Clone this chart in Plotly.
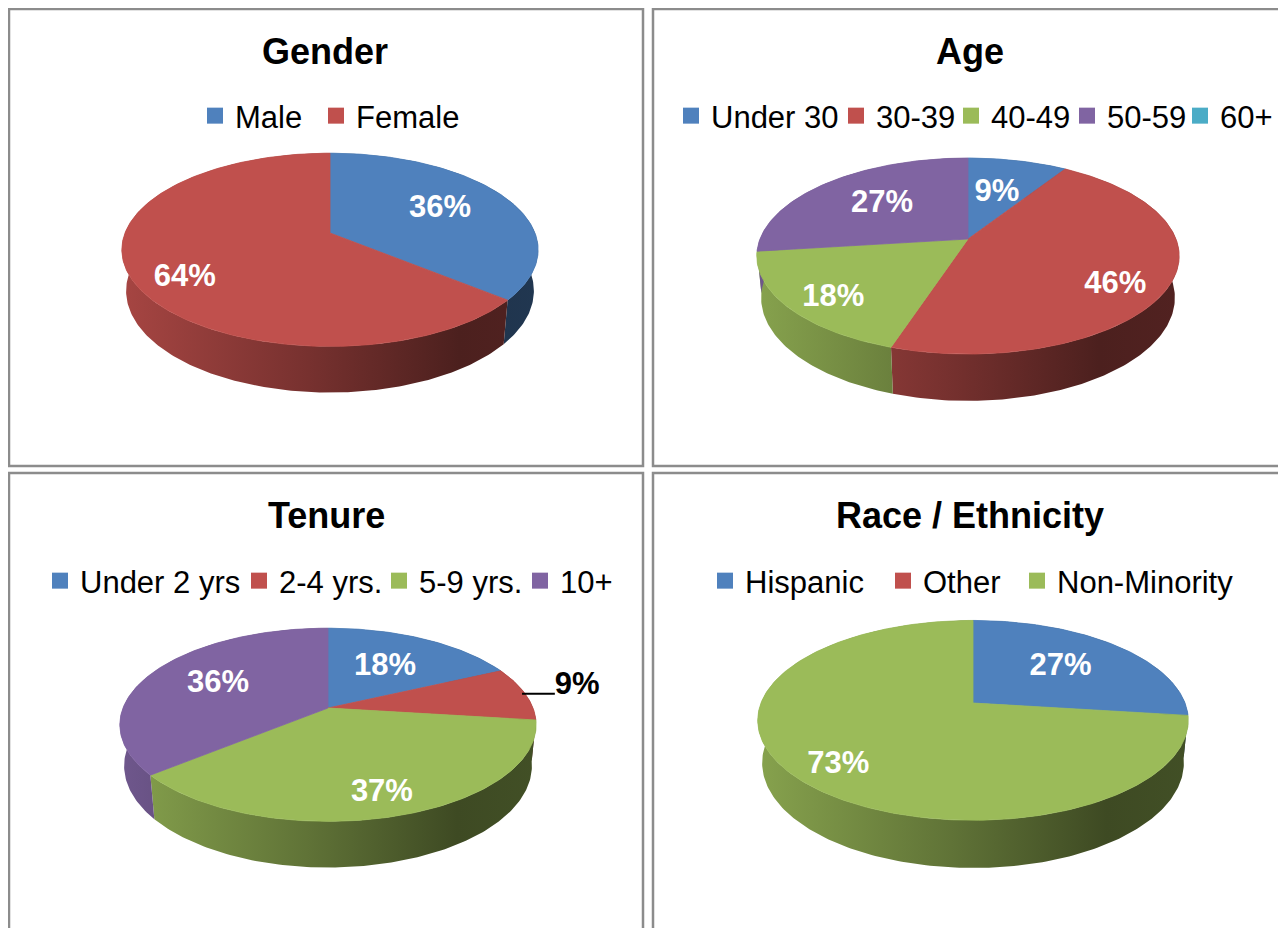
import numpy as np
import plotly.graph_objects as go

# ---------------- data ----------------
gender_labels = ["Male", "Female"]
gender_values = [36, 64]

age_labels = ["Under 30", "30-39", "40-49", "50-59", "60+"]
age_values = [9, 46, 18, 27, 0]

tenure_labels = ["Under 2 yrs", "2-4 yrs.", "5-9 yrs.", "10+"]
tenure_values = [18, 9, 37, 36]

race_labels = ["Hispanic", "Other", "Non-Minority"]
race_values = [27, 0, 73]

palette = ["#4f81bd", "#c0504d", "#9bbb59", "#8064a2", "#4bacc6"]

# ---------------- layout / style ----------------
WIN_W, WIN_H = 1286, 928
OFF = 8                        # default page body margin
W, H = WIN_W - OFF, WIN_H - OFF
D, CPHI, SPHI, THICK = 5.12, 0.889, 0.457, 0.227   # 3D perspective parameters
FONT = "Liberation Sans, Arial, sans-serif"


def pxx(px):
    return (px - OFF) / W


def pxy(py):
    return 1 - (py - OFF) / H


panels = [
    dict(title="Gender", labels=gender_labels, values=gender_values,
         box=(8, 8, 643, 466), vertex=(330, 233), scale=205, title_xy=(325, 51),
         legend_left=207, legend_y=116, pitches=[121, 160], outside=[]),
    dict(title="Age", labels=age_labels, values=age_values,
         box=(652, 8, 1286, 466), vertex=(968, 239), scale=208, title_xy=(970, 51),
         legend_left=683, legend_y=116, pitches=[165, 115, 116, 113, 95], outside=[]),
    dict(title="Tenure", labels=tenure_labels, values=tenure_values,
         box=(8, 472, 643, 928), vertex=(328, 708), scale=205, title_xy=(326, 515),
         legend_left=52, legend_y=581, pitches=[199, 140, 141, 110], outside=[1]),
    dict(title="Race / Ethnicity", labels=race_labels, values=race_values,
         box=(652, 472, 1286, 928), vertex=(973, 703), scale=212, title_xy=(970, 515),
         legend_left=717, legend_y=581, pitches=[178, 134, 240], outside=[]),
]


def proj(X, Y, Z):
    w = D + Z * CPHI - Y * SPHI
    return X * D / w, (Y * CPHI + Z * SPHI) * D / w


def shade(hexcol, f):
    h = hexcol.lstrip("#")
    r, g, b = (int(h[i:i + 2], 16) for i in (0, 2, 4))
    return f"rgb({int(r * f)},{int(g * f)},{int(b * f)})"


fig = go.Figure()
shapes, annotations = [], []
layout_axes = {}

for pi, p in enumerate(panels):
    k = "" if pi == 0 else str(pi + 1)
    xa, ya = "x" + k, "y" + k
    l, t, r, b = p["box"]
    vx, vy = p["vertex"]
    S = p["scale"]
    r_c, b_c = min(r, WIN_W), min(b, WIN_H)
    layout_axes["xaxis" + k] = dict(domain=[pxx(l), pxx(r_c)],
                                    range=[(l - vx) / S, (r_c - vx) / S],
                                    visible=False, fixedrange=True, anchor=ya)
    layout_axes["yaxis" + k] = dict(domain=[pxy(b_c), pxy(t)],
                                    range=[(vy - b_c) / S, (vy - t) / S],
                                    visible=False, fixedrange=True, anchor=xa)

    vals = np.array(p["values"], dtype=float)
    frac = vals / vals.sum()
    edges = np.concatenate([[0], np.cumsum(frac)]) * 2 * np.pi

    walls_back, walls_front, tops, labels = [], [], [], []
    for i, (lab, v) in enumerate(zip(p["labels"], vals)):
        col = palette[i % len(palette)]
        if v <= 0:
            continue
        a0, a1 = edges[i], edges[i + 1]
        # top face
        th = np.linspace(a0, a1, max(8, int((a1 - a0) * 60)))
        X = np.concatenate([[0], np.sin(th), [0]])
        Z = np.concatenate([[0], np.cos(th), [0]])
        px, py = proj(X, np.zeros_like(X), Z)
        tops.append(go.Scatter(x=px, y=py, xaxis=xa, yaxis=ya, mode="lines",
                               fill="toself", fillcolor=col,
                               line=dict(color=col, width=0.8),
                               hoverinfo="skip", showlegend=False))
        # side walls split into back/front segments
        cuts = sorted(set([a0, a1] + [c for c in (np.pi / 2, 3 * np.pi / 2) if a0 < c < a1]))
        for s0, s1 in zip(cuts[:-1], cuts[1:]):
            th = np.linspace(s0, s1, max(6, int((s1 - s0) * 60)))
            Xs, Zs = np.sin(th), np.cos(th)
            tx, ty = proj(Xs, np.zeros_like(Xs), Zs)
            bx, by = proj(Xs, -THICK * np.ones_like(Xs), Zs)
            wx = np.concatenate([tx, bx[::-1], tx[:1]])
            wy = np.concatenate([ty, by[::-1], ty[:1]])
            tr = go.Scatter(x=wx, y=wy, xaxis=xa, yaxis=ya, mode="lines",
                            fill="toself",
                            fillgradient=dict(type="horizontal", start=-1.05, stop=1.05,
                                              colorscale=[[0, shade(col, 0.88)],
                                                          [0.45, shade(col, 0.62)],
                                                          [0.8, shade(col, 0.4)],
                                                          [1, shade(col, 0.43)]]),
                            line=dict(width=0),
                            hoverinfo="skip", showlegend=False)
            mid = 0.5 * (s0 + s1)
            (walls_back if np.cos(mid) > 0 else walls_front).append(tr)
        # label
        mid = 0.5 * (a0 + a1)
        txt = f"{int(round(v))}%"
        if i in p["outside"]:
            ex, ey = proj(1.0 * np.sin(mid), 0.0, 1.0 * np.cos(mid))
            ex -= 0.015
            lx = ex + 0.16
            labels.append(go.Scatter(x=[ex, lx], y=[ey, ey], xaxis=xa, yaxis=ya,
                                     mode="lines", line=dict(color="black", width=2),
                                     hoverinfo="skip", showlegend=False))
            labels.append(go.Scatter(x=[lx], y=[ey + 0.035], xaxis=xa, yaxis=ya,
                                     mode="text", text=[txt], textposition="middle right",
                                     textfont=dict(family=FONT, size=31, color="black",
                                                   weight="bold"),
                                     hoverinfo="skip", showlegend=False))
        else:
            rr = 0.68 - 0.14 * np.cos(mid)
            lx, ly = proj(rr * np.sin(mid), 0.0, rr * np.cos(mid))
            if np.cos(mid) < 0:
                ly -= 0.092 * abs(np.sin(mid)) ** 3
            labels.append(go.Scatter(x=[lx], y=[ly], xaxis=xa, yaxis=ya,
                                     mode="text", text=[txt], textposition="middle center",
                                     textfont=dict(family=FONT, size=31, color="white",
                                                   weight="bold"),
                                     hoverinfo="skip", showlegend=False))

    for tr in walls_back + walls_front + tops + labels:
        fig.add_trace(tr)

    # legend entries
    lg = "legend" if pi == 0 else "legend" + str(pi + 1)
    for i, lab in enumerate(p["labels"]):
        fig.add_trace(go.Scatter(x=[None], y=[None], xaxis=xa, yaxis=ya, mode="markers",
                                 marker=dict(symbol="square", size=16,
                                             color=palette[i % len(palette)]),
                                 name=lab, legend=lg, showlegend=True,
                                 legendwidth=p["pitches"][i] - 45))
    layout_axes[lg] = dict(orientation="h", x=pxx(p["legend_left"] - 12), xanchor="left",
                           y=pxy(p["legend_y"]), yanchor="middle",
                           bgcolor="rgba(0,0,0,0)", borderwidth=0,
                           font=dict(family=FONT, size=31, color="black"),
                           itemclick=False, itemdoubleclick=False)

    # title
    tx, ty = p["title_xy"]
    annotations.append(dict(text=p["title"], x=pxx(tx), y=pxy(ty), xref="paper",
                            yref="paper", xanchor="center", yanchor="middle",
                            showarrow=False,
                            font=dict(family=FONT, size=36, color="black", weight="bold")))
    # panel border
    shapes.append(dict(type="rect", xref="paper", yref="paper",
                       x0=pxx(l + 1), x1=pxx(r + 6 if r >= WIN_W else r),
                       y0=pxy(b + 6 if b >= WIN_H else b), y1=pxy(t + 1),
                       line=dict(color="#8c8c8c", width=2.5), layer="below"))

shapes.append(dict(type="line", xref="paper", yref="paper", x0=pxx(1285), x1=pxx(1285),
                   y0=0, y1=pxy(8), line=dict(color="#e0e0e0", width=1)))

fig.update_layout(width=W, height=H, margin=dict(l=0, r=0, t=0, b=0),
                  paper_bgcolor="white", plot_bgcolor="white",
                  template="none", shapes=shapes, annotations=annotations,
                  **layout_axes)

fig.write_html("out.html")
